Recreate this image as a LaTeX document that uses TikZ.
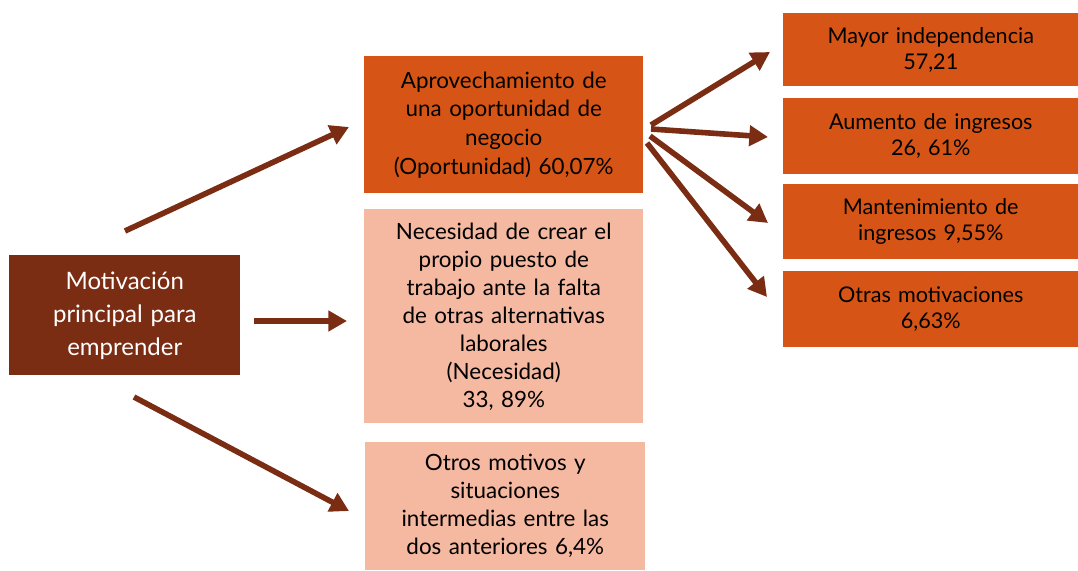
\documentclass[tikz,border=0pt]{standalone}
\usepackage{fontspec}
\setmainfont{Lato}
\usetikzlibrary{arrows.meta}
\definecolor{darkbrown}{HTML}{7B2D14}
\definecolor{orangebox}{HTML}{D65516}
\definecolor{salmon}{HTML}{F5B8A0}
\tikzset{
  box/.style={anchor=north west, inner sep=2pt, align=center, font=\fontsize{16.8}{21.5}\selectfont, text=black},
  mainbox/.style={box, fill=darkbrown, text=white, font=\fontsize{18}{24.75}\selectfont},
  orbox/.style={box, fill=orangebox},
  sabox/.style={box, fill=salmon},
  rbox/.style={box, fill=orangebox, minimum width=221.25pt, text width=215pt, font=\fontsize{16.2}{19.5}\selectfont},
  conn/.style={draw=darkbrown, line width=4.2pt, -{Triangle[length=14pt,width=15pt]}}
}
\begin{document}
\begin{tikzpicture}[x=0.75pt,y=-0.75pt]
\useasboundingbox (0,0) rectangle (1078,571);
\node[mainbox, minimum width=173.25pt, minimum height=90pt, text width=168pt] (mot) at (9,255) {Motivación\\principal para\\emprender};
\node[orbox, minimum width=209.25pt, minimum height=102.75pt, text width=204pt] (apr) at (364,56) {Aprovechamiento de\\una oportunidad de\\negocio\\(Oportunidad) 60,07\%};
\node[sabox, minimum width=209.25pt, minimum height=160.5pt, text width=204pt, font=\fontsize{16.8}{21}\selectfont] (nec) at (364,209) {Necesidad de crear el\\propio puesto de\\trabajo ante la falta\\de otras alternativas\\laborales\\(Necesidad)\\33, 89\%};
\node[sabox, minimum width=210pt, minimum height=96pt, text width=204pt, font=\fontsize{16.8}{21}\selectfont] (otr) at (365,442) {Otros motivos y\\situaciones\\intermedias entre las\\dos anteriores 6,4\%};
\node[rbox, minimum height=54.75pt] (r1) at (783,13) {Mayor independencia\\57,21};
\node[rbox, minimum height=57pt] (r2) at (783,98) {Aumento de ingresos\\26, 61\%};
\node[rbox, minimum height=56.25pt] (r3) at (783,184) {Mantenimiento de\\ingresos 9,55\%};
\node[rbox, minimum height=57pt] (r4) at (783,271) {Otras motivaciones\\6,63\%};
% connector end points
\coordinate (s1) at (125,231); \coordinate (e1) at (349,127);
\coordinate (s2) at (254,321); \coordinate (e2) at (347,321);
\coordinate (s3) at (134,397); \coordinate (e3) at (349,511);
\coordinate (t1) at (651,125); \coordinate (f1) at (770,52);
\coordinate (t2) at (651,129); \coordinate (f2) at (768,137);
\coordinate (t3) at (650,136); \coordinate (f3) at (768,223);
\coordinate (t4) at (647,143); \coordinate (f4) at (767,297);
\draw[conn] (s1) -- (e1);
\draw[conn] (s2) -- (e2);
\draw[conn] (s3) -- (e3);
\draw[conn] (t1) -- (f1);
\draw[conn] (t2) -- (f2);
\draw[conn] (t3) -- (f3);
\draw[conn] (t4) -- (f4);
\end{tikzpicture}
\end{document}
